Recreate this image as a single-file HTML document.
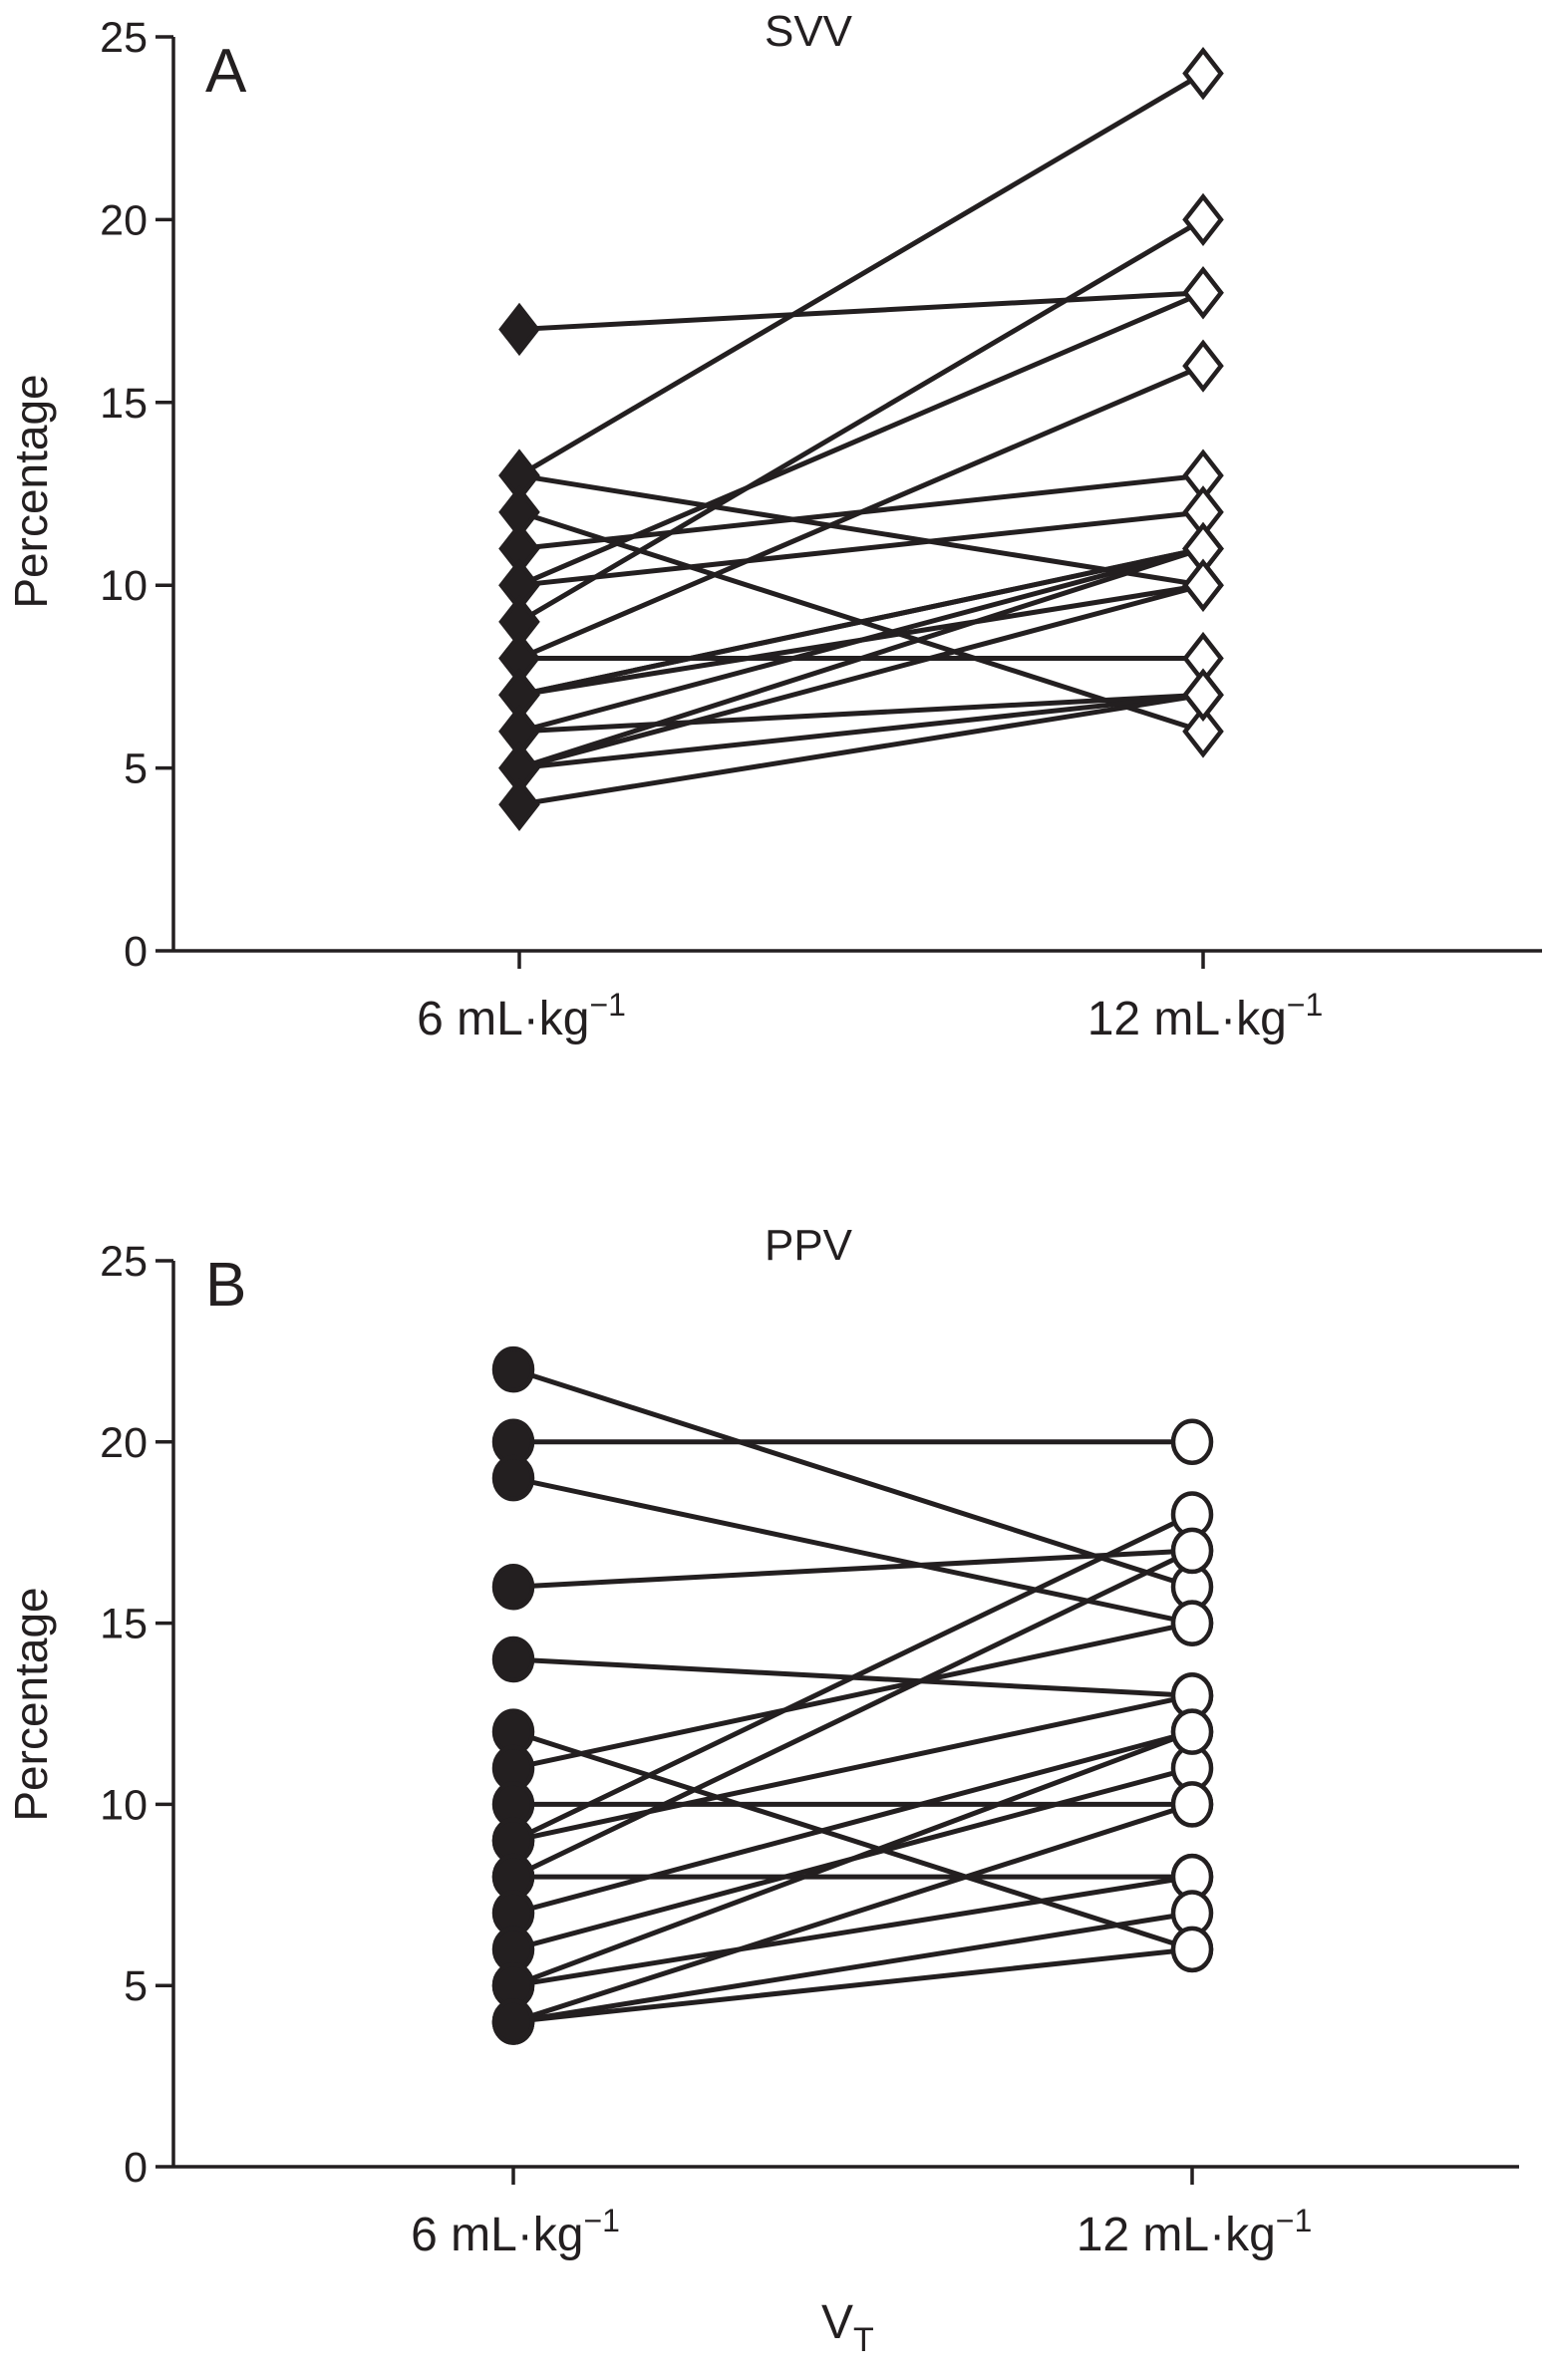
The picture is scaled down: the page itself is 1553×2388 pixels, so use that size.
<!DOCTYPE html>
<html><head><meta charset="utf-8"><style>
html,body{margin:0;padding:0;background:#fff}
svg{display:block}
text{font-family:"Liberation Sans",sans-serif;fill:#231f20}
</style></head><body>
<svg id="chart" width="1553" height="2388" viewBox="0 0 1553 2388" xmlns="http://www.w3.org/2000/svg"></svg>
<script>
const categories = ["6 mL·kg", "12 mL·kg"];
const yTicks = [0, 5, 10, 15, 20, 25];
const svvBefore = [17, 13, 13, 12, 11, 10, 10, 9, 8, 8, 7, 7, 7, 6, 6, 5, 5, 5, 4];
const svvAfter  = [18, 24, 10, 6, 13, 12, 18, 20, 16, 8, 11, 11, 10, 11, 7, 11, 10, 7, 7];
const ppvBefore = [22, 20, 19, 16, 14, 12, 11, 10, 9, 9, 8, 8, 7, 6, 5, 5, 4, 4, 4];
const ppvAfter  = [16, 20, 15, 17, 13, 6, 15, 10, 18, 13, 17, 8, 12, 11, 12, 8, 10, 7, 6];

const NS = "http://www.w3.org/2000/svg";
const svg = document.getElementById("chart");
function mk(tag, attrs, parent) {
  const e = document.createElementNS(NS, tag);
  for (const k in attrs) e.setAttribute(k, attrs[k]);
  (parent || svg).appendChild(e);
  return e;
}
function panel(cfg) {
  const g = mk("g", {});
  
  
  const y = v => cfg.y0 + (cfg.y25 - cfg.y0) * v / 25;
  const x = i => cfg.cx[i];
  const ya = mk("line", {x1: cfg.ax, y1: y(25), x2: cfg.ax, y2: cfg.y0, stroke: "#231f20", "stroke-width": 3.5}, g);
  
  
  const xa = mk("line", {x1: cfg.ax, y1: cfg.y0, x2: cfg.xend, y2: cfg.y0, stroke: "#231f20", "stroke-width": 3.5}, g);
  
  
  yTicks.forEach(t => {
    const tk = mk("line", {x1: cfg.ax - 18, y1: y(t), x2: cfg.ax, y2: y(t), stroke: "#231f20", "stroke-width": 3.5}, g);
    
    
    const tl = mk("text", {x: cfg.ax - 26, y: y(t) + 15, "font-size": 43, "text-anchor": "end"}, g);
    tl.textContent = t;
    
    
  });
  categories.forEach((c, i) => {
    const tk = mk("line", {x1: x(i), y1: cfg.y0, x2: x(i), y2: cfg.y0 + 18, stroke: "#231f20", "stroke-width": 3.5}, g);
    
    
    const tl = mk("text", {x: x(i) + 2, y: cfg.y0 + 84, "font-size": 48, "text-anchor": "middle"}, g);
    
    
    tl.appendChild(document.createTextNode(c));
    const sup = mk("tspan", {dy: -19, "font-size": 32}, tl);
    sup.textContent = "−1";
  });
  const yt = mk("text", {x: 0, y: 0, "font-size": 46, "text-anchor": "middle", transform: `translate(47,${cfg.ytitleY}) rotate(-90)`}, g);
  yt.textContent = "Percentage";
  
  
  const tt = mk("text", {x: 811, y: cfg.titleY, "font-size": 44, "text-anchor": "middle"}, g);
  tt.textContent = cfg.title;
  
  
  const lt = mk("text", {x: 206, y: cfg.letterY, "font-size": 62}, g);
  lt.textContent = cfg.letter;
  
  
  cfg.before.forEach((b, i) => {
    const l = mk("line", {x1: x(0), y1: y(b), x2: x(1), y2: y(cfg.after[i]), stroke: "#231f20", "stroke-width": 5}, g);
    
    
  });
  const marker = (px, py, filled) => {
    let m;
    if (cfg.shape === "diamond") {
      const r = 23;
      m = mk("polygon", {points: `${px},${py - r} ${px + r * 0.78},${py} ${px},${py + r} ${px - r * 0.78},${py}`,
        fill: filled ? "#231f20" : "#fff", stroke: "#231f20", "stroke-width": 4.5}, g);
    } else {
      m = mk("ellipse", {cx: px, cy: py, rx: 19, ry: 21, fill: filled ? "#231f20" : "#fff", stroke: "#231f20", "stroke-width": 4.5}, g);
    }
    return m;
  };
  cfg.before.forEach(b => {
    const m = marker(x(0), y(b), true);
    
    
  });
  cfg.after.forEach(a => {
    const m = marker(x(1), y(a), false);
    
    
  });
}
panel({name: "panel-a-svv", ax: 174, y0: 954, y25: 37, cx: [521, 1207], xend: 1547, before: svvBefore, after: svvAfter,
  shape: "diamond", title: "SVV", titleY: 46, letter: "A", letterY: 92, ytitleY: 493});
panel({name: "panel-b-ppv", ax: 174, y0: 2174, y25: 1265, cx: [515, 1196], xend: 1524, before: ppvBefore, after: ppvAfter,
  shape: "circle", title: "PPV", titleY: 1264, letter: "B", letterY: 1310, ytitleY: 1710});
const vt = mk("text", {x: 824, y: 2346, "font-size": 48});


vt.appendChild(document.createTextNode("V"));
const sub = mk("tspan", {dy: 13, "font-size": 34}, vt);
sub.textContent = "T";
</script>
</body></html>
